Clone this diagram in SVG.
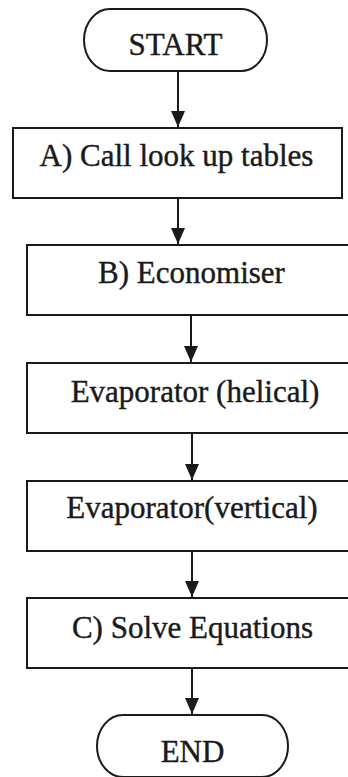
<svg xmlns="http://www.w3.org/2000/svg" width="348" height="777" viewBox="0 0 348 777">
<defs>
<style>
.shape{fill:#fff;stroke:#1a1a1a;stroke-width:2}
.lbl{font-family:"Liberation Serif","Times New Roman",serif;font-size:31px;fill:#1a1a1a;stroke:#1a1a1a;stroke-width:0.4;text-anchor:middle}
.conn{stroke:#1a1a1a;stroke-width:2;fill:none}
</style>
<marker id="arr" markerWidth="16" markerHeight="14" refX="16" refY="7" orient="auto" markerUnits="userSpaceOnUse" viewBox="0 0 16 14">
<path d="M0,0 L16,7 L0,14 Z" fill="#1a1a1a"/>
</marker>
</defs>
<rect width="348" height="777" fill="#fff"/>
<g id="start">
<path class="shape" d="M110 9 H241 A26 31 0 0 1 241 71 H110 A26 31 0 0 1 110 9 Z"/>
<text class="lbl" x="175.5" y="55" font-family="Liberation Serif, serif">START</text>
</g>
<g id="nodeA">
<rect class="shape" x="13" y="128" width="329" height="70"/>
<text class="lbl" x="176.5" y="166" font-family="Liberation Serif, serif">A) Call look up tables</text>
</g>
<g id="nodeB">
<rect class="shape" x="27" y="245" width="325" height="70"/>
<text class="lbl" x="191.5" y="283" font-family="Liberation Serif, serif">B) Economiser</text>
</g>
<g id="helical">
<rect class="shape" x="27" y="363" width="325" height="70"/>
<text class="lbl" x="195" y="402" font-family="Liberation Serif, serif">Evaporator (helical)</text>
</g>
<g id="vertical">
<rect class="shape" x="27" y="481" width="325" height="70"/>
<text class="lbl" x="192" y="518" font-family="Liberation Serif, serif">Evaporator(vertical)</text>
</g>
<g id="nodeC">
<rect class="shape" x="27" y="598" width="325" height="70"/>
<text class="lbl" x="192.5" y="638" font-family="Liberation Serif, serif">C) Solve Equations</text>
</g>
<g id="end">
<path class="shape" d="M123 715 H262 A26 31 0 0 1 262 777 H123 A26 31 0 0 1 123 715 Z"/>
<text class="lbl" x="192.5" y="762" font-family="Liberation Serif, serif">END</text>
</g>
<g id="connectors">
<line class="conn" x1="178" y1="72" x2="178" y2="127" marker-end="url(#arr)"/>
<line class="conn" x1="178" y1="199" x2="178" y2="244" marker-end="url(#arr)"/>
<line class="conn" x1="191" y1="316" x2="191" y2="362" marker-end="url(#arr)"/>
<line class="conn" x1="192" y1="434" x2="192" y2="480" marker-end="url(#arr)"/>
<line class="conn" x1="192" y1="552" x2="192" y2="597" marker-end="url(#arr)"/>
<line class="conn" x1="192" y1="669" x2="192" y2="714" marker-end="url(#arr)"/>
</g>
</svg>
